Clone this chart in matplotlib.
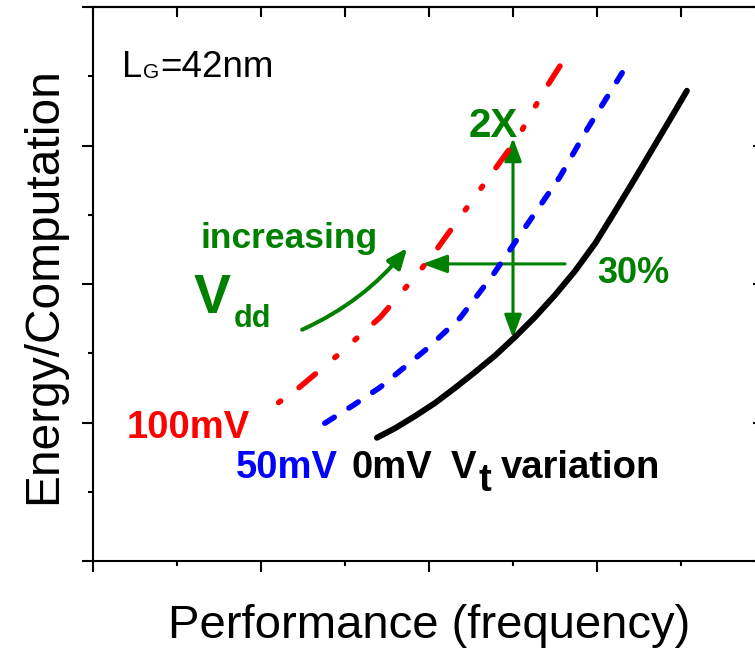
import matplotlib
matplotlib.use('Agg')
import matplotlib.pyplot as plt
from matplotlib.patches import FancyArrowPatch
from matplotlib.ticker import MultipleLocator, FixedLocator

plt.rcParams['font.family'] = ['Liberation Sans', 'DejaVu Sans']
plt.rcParams['lines.scale_dashes'] = False

# ---- data ----
vt0_x = [3.38, 3.60, 3.83, 4.07, 4.31, 4.55, 4.79, 5.02, 5.26, 5.50, 5.74,
         5.98, 6.21, 6.45, 6.69, 6.93, 7.07]
vt0_y = [1.78, 1.92, 2.09, 2.28, 2.50, 2.73, 2.97, 3.23, 3.52, 3.84, 4.19,
         4.59, 5.04, 5.52, 6.01, 6.50, 6.79]

vt50_x = [2.76, 3.10, 3.42, 3.99, 4.37, 4.76, 5.18, 5.56, 5.89, 6.30]
vt50_y = [1.99, 2.25, 2.51, 3.08, 3.51, 4.13, 4.88, 5.55, 6.25, 7.05]

vt100_x = [2.20, 2.46, 2.92, 3.42, 3.83, 4.05, 4.39, 4.75, 5.06, 5.36, 5.66]
vt100_y = [2.28, 2.51, 2.98, 3.52, 4.10, 4.43, 5.00, 5.60, 6.12, 6.77, 7.34]

x_major = [0, 2, 4, 6, 8]
y_major = [0, 2, 4, 6, 8]

GREEN = '#008000'

W, H = 755, 649
fig = plt.figure(figsize=(W / 100, H / 100), dpi=100)
ax = fig.add_axes([93 / W, (H - 561) / H, (765 - 93) / W, (561 - 7) / H])
ax.set_xlim(0, 8)
ax.set_ylim(0, 8)

ax.plot(vt0_x, vt0_y, color='black', lw=4.3, solid_capstyle='round',
        solid_joinstyle='round')
ax.plot(vt50_x, vt50_y, color='blue', lw=4.0, linestyle=(0, (8.0, 12.5)),
        dash_capstyle='round', dash_joinstyle='round')
ax.plot(vt100_x, vt100_y, color='red', lw=4.0,
        linestyle=(52.2, (15.3, 18.3, 1.8, 17.5, 1.8, 16.5)),
        dash_capstyle='round', dash_joinstyle='round')

# ---- arrows ----
ax.add_patch(FancyArrowPatch((5.0, 3.22), (5.0, 6.11),
                             arrowstyle='<|-|>,head_length=14,head_width=5.2',
                             mutation_scale=1, lw=2.2, color=GREEN,
                             shrinkA=0, shrinkB=0))
ax.add_patch(FancyArrowPatch((5.62, 4.29), (3.92, 4.29),
                             arrowstyle='-|>,head_length=15,head_width=5.5',
                             mutation_scale=1, lw=2.2, color=GREEN,
                             shrinkA=0, shrinkB=0))
ax.add_patch(FancyArrowPatch((2.49, 3.34), (3.74, 4.52),
                             connectionstyle='arc3,rad=0.12',
                             arrowstyle='-|>,head_length=12,head_width=5',
                             mutation_scale=1, lw=2.9, color=GREEN,
                             shrinkA=0, shrinkB=0, capstyle='round'))

# ---- texts ----
ax.text(0.345, 6.99, 'L', fontsize=26, va='baseline')
ax.text(0.60, 6.97, 'G', fontsize=15, va='baseline')
ax.text(0.80, 6.99, '=42nm', fontsize=26.5, va='baseline')

ax.text(1.274, 4.52, 'increasing', fontsize=25.5, fontweight='bold',
        color=GREEN, va='baseline')
ax.text(1.20, 3.58, 'V', fontsize=40, fontweight='bold', color=GREEN,
        va='baseline')
ax.text(1.68, 3.38, 'dd', fontsize=22, fontweight='bold', color=GREEN,
        va='baseline')
ax.text(4.47, 6.12, '2X', fontsize=29, fontweight='bold', color=GREEN,
        va='baseline')
ax.text(6.0, 4.01, '30%', fontsize=26, fontweight='bold', color=GREEN,
        va='baseline')

ax.text(0.40, 1.78, '100mV', fontsize=27.5, fontweight='bold', color='red',
        va='baseline')
ax.text(1.70, 1.20, '50mV', fontsize=27.5, fontweight='bold', color='blue',
        va='baseline')
ax.text(3.08, 1.20, '0mV', fontsize=27.5, fontweight='bold', color='black',
        va='baseline')
ax.text(4.26, 1.20, 'V', fontsize=27.5, fontweight='bold', color='black',
        va='baseline')
ax.text(4.59, 1.01, 't', fontsize=27.5, fontweight='bold', color='black',
        va='baseline')
ax.text(4.86, 1.20, 'variation', fontsize=27.5, fontweight='bold',
        color='black', va='baseline')

# ---- axis labels ----
ax.set_xlabel('Performance (frequency)', fontsize=34)
ax.xaxis.set_label_coords(0.5, (561 - 638) / 554)
ax.xaxis.label.set_va('baseline')
ax.set_ylabel('Energy/Computation', fontsize=34.5)
ax.yaxis.set_label_coords((56 - 93) / 672, (561 - 286) / 554)
ax.yaxis.label.set_va('baseline')

# ---- ticks ----
ax.xaxis.set_major_locator(FixedLocator(x_major))
ax.xaxis.set_minor_locator(MultipleLocator(1))
ax.yaxis.set_major_locator(FixedLocator(y_major))
ax.yaxis.set_minor_locator(MultipleLocator(1))
ax.tick_params(which='both', direction='out', width=1.5, top=False, right=False,
               labelbottom=False, labelleft=False)
ax.tick_params(which='major', length=8)
ax.tick_params(which='minor', length=3.6)
for s in ax.spines.values():
    s.set_linewidth(1.5)

sec_t = ax.secondary_xaxis('top')
sec_t.xaxis.set_major_locator(FixedLocator(x_major))
sec_t.xaxis.set_minor_locator(MultipleLocator(1))
sec_t.tick_params(which='both', direction='in', length=7, width=1.5,
                  labeltop=False)
sec_t.spines['top'].set_linewidth(1.5)

sec_r = ax.secondary_yaxis('right')
sec_r.yaxis.set_major_locator(FixedLocator(y_major))
sec_r.yaxis.set_minor_locator(MultipleLocator(1))
sec_r.tick_params(which='major', direction='in', length=8.5, width=1.5,
                  labelright=False)
sec_r.tick_params(which='minor', direction='in', length=3.6, width=1.5,
                  labelright=False)
sec_r.spines['right'].set_linewidth(1.5)

fig.savefig('out.png', dpi=100)
